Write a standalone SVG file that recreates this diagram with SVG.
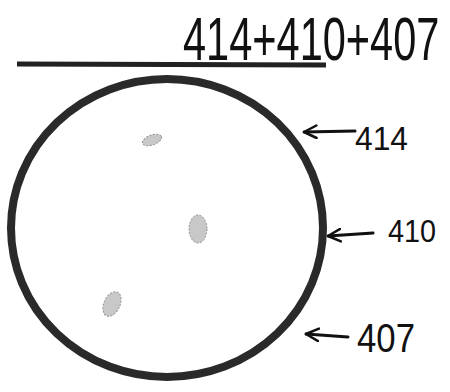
<svg xmlns="http://www.w3.org/2000/svg" width="450" height="392" viewBox="0 0 450 392">
<defs>
<style>
.lbl{font-family:"Liberation Sans",Arial,sans-serif;fill:#111;}
.arr{stroke:#111;stroke-width:3;fill:none;stroke-linecap:round;stroke-linejoin:round;}
.smudge{fill:#bbb;stroke:#777;stroke-width:1;stroke-dasharray:2 1.5;opacity:0.8;}
</style>
<marker id="ah" viewBox="0 0 12 12" refX="11" refY="6" markerWidth="5" markerHeight="5" orient="auto" markerUnits="strokeWidth">
<path d="M1,1 L11,6 L1,11" fill="none" stroke="#111" stroke-width="2" stroke-linecap="round" stroke-linejoin="round"/>
</marker>
</defs>
<rect width="450" height="392" fill="#fff"/>
<g id="line">
<line x1="17" y1="64" x2="326" y2="65" stroke="#222" stroke-width="5"/>
</g>
<g id="title" transform="translate(183,60) scale(0.67,1)">
<text class="lbl" x="0" y="0" font-size="62">414+410+407</text>
</g>
<g id="circle">
<ellipse cx="167" cy="228" rx="156" ry="149" fill="none" stroke="#2a2a2a" stroke-width="8"/>
</g>
<g id="smudges">
<ellipse class="smudge" cx="152" cy="140" rx="10" ry="5" transform="rotate(-20 152 140)"/>
<ellipse class="smudge" cx="198" cy="229" rx="9" ry="14"/>
<ellipse class="smudge" cx="112" cy="304" rx="8" ry="13" transform="rotate(25 112 304)"/>
</g>
<g id="connectors">
<path class="arr" d="M355,131 L304,132" marker-end="url(#ah)"/>
<path class="arr" d="M373,233 L328,236" marker-end="url(#ah)"/>
<path class="arr" d="M348,337 L306,334" marker-end="url(#ah)"/>
</g>
<g id="label414">
<text class="lbl" x="355" y="150" font-size="34" textLength="53" lengthAdjust="spacingAndGlyphs">414</text>
</g>
<g id="label410">
<text class="lbl" x="388" y="242" font-size="32" textLength="48" lengthAdjust="spacingAndGlyphs">410</text>
</g>
<g id="label407">
<text class="lbl" x="357" y="352" font-size="40" textLength="58" lengthAdjust="spacingAndGlyphs">407</text>
</g>
</svg>
